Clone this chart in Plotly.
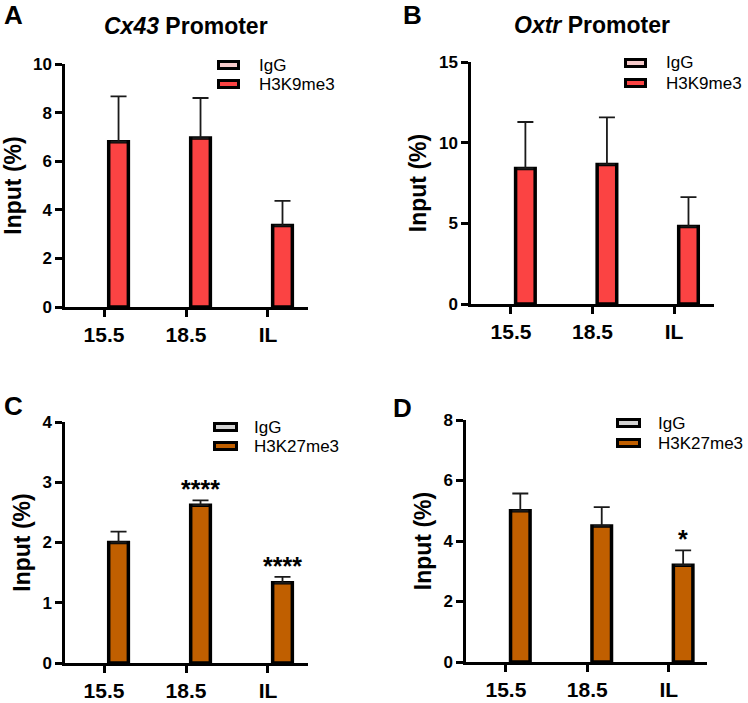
import plotly.graph_objects as go

# ---------------- data ----------------
categories = ["15.5", "18.5", "IL"]

a_igg = [0, 0, 0]
a_h3k9 = [6.8, 6.95, 3.35]
a_h3k9_err = [1.87, 1.65, 1.02]

b_igg = [0, 0, 0]
b_h3k9 = [8.4, 8.65, 4.8]
b_h3k9_err = [2.88, 2.92, 1.83]

c_igg = [0, 0, 0]
c_h3k27 = [2.0, 2.62, 1.33]
c_h3k27_err = [0.18, 0.08, 0.10]
c_sig = ["", "****", "****"]

d_igg = [0, 0, 0]
d_h3k27 = [5.0, 4.5, 3.2]
d_h3k27_err = [0.57, 0.62, 0.49]
d_sig = ["", "", "*"]

y_ticks_a = [0, 2, 4, 6, 8, 10]
y_ticks_b = [0, 5, 10, 15]
y_ticks_c = [0, 1, 2, 3, 4]
y_ticks_d = [0, 2, 4, 6, 8]

# ---------------- style ----------------
W, H = 748, 703
FONT = "Liberation Sans, Arial, Helvetica, sans-serif"
RED = "#FB4343"
ORANGE = "#C05F00"
PINK = "#F6CACA"
GRAY = "#D4D4D4"
BAR_W = 0.24
OFF_H = 0.057
OFF_IGG = -0.297


def px_x(px):
    return px / W


def px_y(py):
    return 1 - py / H


panels = [
    dict(igg=a_igg, val=a_h3k9, err=a_h3k9_err, sig=None, color=RED, iggc=PINK,
         names=("IgG", "H3K9me3"), yt=y_ticks_a,
         xdom=(65, 308), ydom=(64, 307), xr=(-0.476, 2.488),
         letter=("A", 13, 15), title=("<b><i>Cx43</i> Promoter</b>", 186, 26),
         leg=(217, 240, 257, 65, 84)),
    dict(igg=b_igg, val=b_h3k9, err=b_h3k9_err, sig=None, color=RED, iggc=PINK,
         names=("IgG", "H3K9me3"), yt=y_ticks_b,
         xdom=(471, 714), ydom=(62, 304), xr=(-0.49, 2.49),
         letter=("B", 412, 15), title=("<b><i>Oxtr</i> Promoter</b>", 592, 25),
         leg=(624, 647, 664, 63, 83)),
    dict(igg=c_igg, val=c_h3k27, err=c_h3k27_err, sig=c_sig, color=ORANGE, iggc=GRAY,
         names=("IgG", "H3K27me3"), yt=y_ticks_c,
         xdom=(65, 308), ydom=(422, 663), xr=(-0.476, 2.488),
         letter=("C", 14, 406), title=None,
         leg=(213, 238, 252, 427, 446)),
    dict(igg=d_igg, val=d_h3k27, err=d_h3k27_err, sig=d_sig, color=ORANGE, iggc=GRAY,
         names=("IgG", "H3K27me3"), yt=y_ticks_d,
         xdom=(466, 707), ydom=(420, 662), xr=(-0.49, 2.47),
         letter=("D", 402, 408), title=None,
         leg=(616, 641, 656, 423, 443)),
]

fig = go.Figure()
annotations = []
shapes = []

for k, p in enumerate(panels):
    n = "" if k == 0 else str(k + 1)
    xa, ya = "x" + n, "y" + n
    fig.add_trace(go.Bar(
        x=categories, y=p["igg"], name=p["names"][0], xaxis=xa, yaxis=ya,
        width=BAR_W, offset=OFF_IGG, showlegend=False,
        marker=dict(color=p["iggc"], line=dict(color="black", width=0)),
    ))
    fig.add_trace(go.Bar(
        x=categories, y=p["val"], name=p["names"][1], xaxis=xa, yaxis=ya,
        width=BAR_W, offset=OFF_H, showlegend=False,
        marker=dict(color=p["color"], line=dict(color="black", width=3.5)),
        error_y=dict(type="data", array=p["err"], arrayminus=[0] * len(p["err"]),
                     symmetric=False, color="#1a1a1a", thickness=1.8, width=8),
    ))

    axis_common = dict(showline=True, linecolor="black", linewidth=2.5,
                       ticks="outside", ticklen=7, tickwidth=2.5, tickcolor="black",
                       showgrid=False, zeroline=False, automargin=False)
    fig.update_layout(**{
        ("xaxis" + n): dict(
            axis_common, type="category", range=list(p["xr"]),
            domain=[px_x(p["xdom"][0]), px_x(p["xdom"][1])],
            anchor=ya, tickfont=dict(family=FONT, size=21, color="black"),
            tickprefix="<b>", ticksuffix="</b>", fixedrange=True),
        ("yaxis" + n): dict(
            axis_common, range=[0, max(p["yt"])], tickvals=p["yt"],
            ticktext=["<b>%d</b>" % v for v in p["yt"]],
            domain=[px_y(p["ydom"][1]), px_y(p["ydom"][0])],
            anchor=xa, tickfont=dict(family=FONT, size=17, color="black"),
            title=dict(text="<b>Input (%)</b>", font=dict(family=FONT, size=23, color="black"),
                       standoff=6), fixedrange=True),
    })

    # significance marks
    if p["sig"]:
        for i, s in enumerate(p["sig"]):
            if s:
                annotations.append(dict(
                    x=i + OFF_H + BAR_W / 2, y=p["val"][i] + p["err"][i],
                    xref=xa, yref=ya, text="<b>%s</b>" % s, showarrow=False,
                    yanchor="bottom", yshift=-5,
                    font=dict(family=FONT, size=25, color="black")))

    # panel letter
    L, lx, ly = p["letter"]
    annotations.append(dict(x=px_x(lx), y=px_y(ly), xref="paper", yref="paper",
                            text="<b>%s</b>" % L, showarrow=False,
                            xanchor="center", yanchor="middle",
                            font=dict(family=FONT, size=26, color="black")))
    # title
    if p["title"]:
        t, tx, ty = p["title"]
        annotations.append(dict(x=px_x(tx), y=px_y(ty), xref="paper", yref="paper",
                                text=t, showarrow=False, xanchor="center", yanchor="middle",
                                font=dict(family=FONT, size=23, color="black")))
    # legend (swatches + labels)
    sx0, sx1, tx0, r1, r2 = p["leg"]
    for name, col, ry in ((p["names"][0], p["iggc"], r1), (p["names"][1], p["color"], r2)):
        shapes.append(dict(type="rect", xref="paper", yref="paper",
                           x0=px_x(sx0 + 1.5), x1=px_x(sx1 - 1.5),
                           y0=px_y(ry + 3.5), y1=px_y(ry - 3.5),
                           fillcolor=col, line=dict(color="black", width=3)))
        annotations.append(dict(x=px_x(tx0), y=px_y(ry), xref="paper", yref="paper",
                                text=name, showarrow=False, xanchor="left", yanchor="middle",
                                font=dict(family=FONT, size=17, color="black")))

fig.update_layout(
    width=W, height=H, margin=dict(l=0, r=0, t=0, b=0),
    paper_bgcolor="white", plot_bgcolor="white",
    barmode="overlay", showlegend=False,
    annotations=annotations, shapes=shapes,
    font=dict(family=FONT, color="black"),
)

fig.write_html("out.html", config={"displayModeBar": False},
               post_script="document.body.style.margin='0';document.body.style.padding='0';")
